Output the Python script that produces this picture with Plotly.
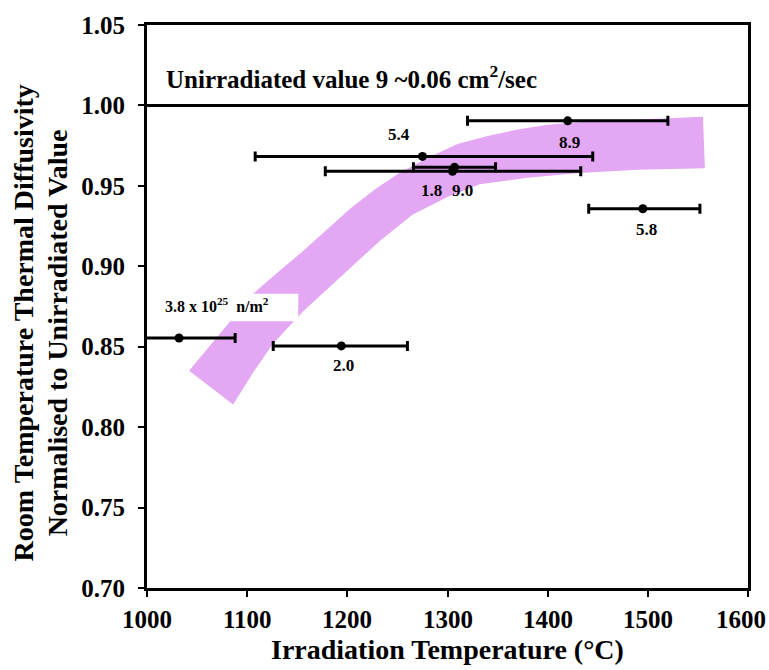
import plotly.graph_objects as go

# ---- data ----
point_labels = ["3.8", "2.0", "8.9", "5.4", "1.8", "9.0", "5.8"]
temps = [1032, 1194, 1420, 1275, 1307, 1305, 1495]
values = [0.8554, 0.8505, 0.9904, 0.9683, 0.9616, 0.9591, 0.9358]
err_plus = [56, 66, 100, 170, 41, 128, 57]
err_minus = [56, 68, 100, 167, 41, 127, 54]

band_upper_x = [1042, 1075, 1106, 1130, 1153, 1178, 1203, 1228, 1252, 1282,
                1310, 1340, 1370, 1400, 1440, 1480, 1555]
band_upper_y = [0.835, 0.860, 0.883, 0.896, 0.908, 0.922, 0.936, 0.948, 0.958, 0.968,
                0.976, 0.981, 0.985, 0.988, 0.990, 0.991, 0.993]
band_lower_x = [1086, 1106, 1126, 1156, 1186, 1210, 1233, 1265, 1300, 1332,
                1380, 1432, 1490, 1557]
band_lower_y = [0.814, 0.834, 0.852, 0.872, 0.889, 0.903, 0.916, 0.932, 0.943, 0.951,
                0.955, 0.958, 0.960, 0.961]

unirradiated = 1.00
x_ticks = [1000, 1100, 1200, 1300, 1400, 1500, 1600]
y_ticks = [0.70, 0.75, 0.80, 0.85, 0.90, 0.95, 1.00, 1.05]

FONT = "Liberation Serif"
band_color = "#E3A7F4"

fig = go.Figure()

# band polygon
bx = band_upper_x + band_lower_x[::-1]
by = band_upper_y + band_lower_y[::-1]
fig.add_trace(go.Scatter(x=bx, y=by, fill="toself", fillcolor=band_color,
                         line=dict(width=0, color=band_color), mode="lines",
                         hoverinfo="skip", showlegend=False))

# data points with horizontal error bars
fig.add_trace(go.Scatter(
    x=temps, y=values, mode="markers",
    marker=dict(color="black", size=9),
    error_x=dict(type="data", array=err_plus, arrayminus=err_minus,
                 color="black", thickness=3, width=5),
    showlegend=False))

# label offsets (pixels) relative to each point
offsets = {"2.0": (2, -20), "8.9": (2, -22), "5.4": (-23, 22),
           "1.8": (-23, -23), "9.0": (10, -19), "5.8": (4, -21)}
for lab, xv, yv in zip(point_labels, temps, values):
    if lab in offsets:
        dx, dy = offsets[lab]
        fig.add_annotation(x=xv, y=yv, text="<b>%s</b>" % lab, showarrow=False,
                           xshift=dx, yshift=dy,
                           font=dict(family=FONT, size=17, color="black"))

# white box with fluence label
fig.add_shape(type="rect", x0=1002, x1=1151, y0=0.8658, y1=0.883,
              fillcolor="white", line=dict(width=0), layer="above")
fig.add_annotation(x=1016, y=0.8738, xanchor="left", yshift=3,
                   text="<b>3.8 x 10<sup>25</sup>  n/m<sup>2</sup></b>",
                   showarrow=False, font=dict(family=FONT, size=16, color="black"))

# unirradiated line
fig.add_shape(type="line", xref="paper", x0=0, x1=1, y0=unirradiated, y1=unirradiated,
              line=dict(color="black", width=3), layer="above")
fig.add_annotation(xref="x", x=1017, y=1.0138, xanchor="left", yshift=6,
                   text="<b>Unirradiated value 9 ~0.06 cm<sup>2</sup>/sec</b>",
                   showarrow=False, font=dict(family=FONT, size=25, color="black"))

# axis titles
fig.add_annotation(xref="paper", yref="paper", x=0.5008, y=-0.1088,
                   xanchor="center", yanchor="middle",
                   text="<b>Irradiation Temperature (°C)</b>", showarrow=False,
                   font=dict(family=FONT, size=28, color="black"))
fig.add_annotation(xref="paper", yref="paper", x=-0.2063, y=0.470, textangle=-90,
                   xanchor="center", yanchor="middle",
                   text="<b>Room Temperature Thermal Diffusivity</b>",
                   showarrow=False, font=dict(family=FONT, size=28, color="black"))
fig.add_annotation(xref="paper", yref="paper", x=-0.1498, y=0.454, textangle=-90,
                   xanchor="center", yanchor="middle",
                   text="<b>Normalised to Unirradiated Value</b>",
                   showarrow=False, font=dict(family=FONT, size=28, color="black"))

axis_common = dict(showline=True, linecolor="black", linewidth=3, mirror=True,
                   ticks="outside", ticklen=6, tickwidth=2, tickcolor="black",
                   showgrid=False, zeroline=False,
                   tickfont=dict(family=FONT, size=25, color="black"))

# x tick labels drawn as annotations at the tick values (last one nudged left to stay on page)
fig.update_xaxes(range=[1000, 1600], tickvals=x_ticks, showticklabels=False, **axis_common)
fig.update_yaxes(range=[0.70, 1.05], tickvals=y_ticks, ticklabelstandoff=8,
                 ticktext=["<b>%.2f</b>" % t for t in y_ticks], **axis_common)
for t in x_ticks:
    fig.add_annotation(x=t, xref="x", yref="paper", y=0, yanchor="top",
                       yshift=-16, xshift=(-7 if t == x_ticks[-1] else 0),
                       text="<b>%d</b>" % t, showarrow=False,
                       font=dict(family=FONT, size=25, color="black"))

fig.update_layout(width=769, height=670, plot_bgcolor="white", paper_bgcolor="white",
                  margin=dict(l=147, r=21, t=18, b=82), showlegend=False)

fig.write_html("out.html")
